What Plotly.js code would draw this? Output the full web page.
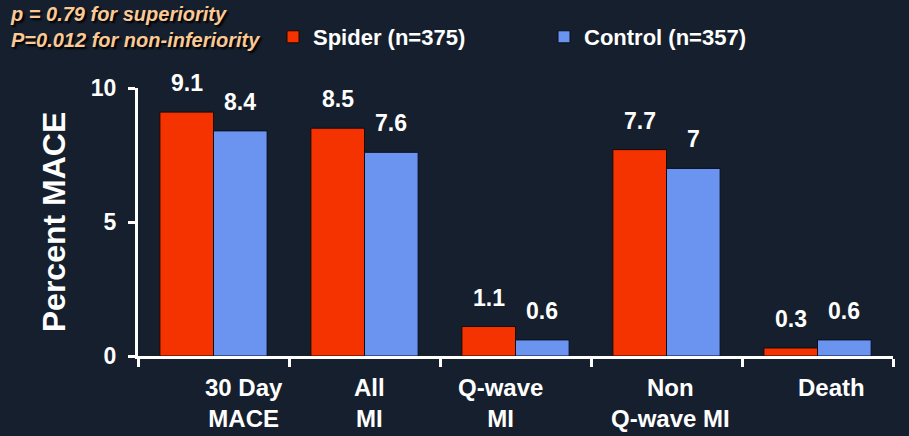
<!DOCTYPE html>
<html>
<head>
<meta charset="utf-8">
<script src="https://cdn.plot.ly/plotly-3.0.1.min.js"></script>
<style>
  html, body { margin: 0; padding: 0; background: #161f2d; }
  #chart { width: 909px; height: 436px; }
</style>
</head>
<body>
<div id="chart"></div>
<script>
// ---- data ----
const categories = ["30 Day<br>MACE", "All<br>MI", "Q-wave<br>MI", "Non<br>Q-wave MI", "Death"];
const spiderValues = [9.1, 8.5, 1.1, 7.7, 0.3];
const controlValues = [8.4, 7.6, 0.6, 7.0, 0.6];
const seriesNames = ["Spider (n=375)", "Control (n=357)"];
const yTickValues = [0, 5, 10];
const pValueLines = ["p = 0.79 for superiority", "P=0.012 for non-inferiority"];

// ---- style ----
const FONT = "Liberation Sans, Arial, Helvetica, sans-serif";
const W = 909, H = 436;
const margin = { l: 138, r: 16, t: 88, b: 80 };
const bargap = 0.29;
const plotW = W - margin.l - margin.r;
const plotH = H - margin.t - margin.b;
const catW = plotW / categories.length;
const barW = catW * (1 - bargap) / 2;
const labelShifts = [30, 5, -15, 4, 14];

const traces = [
  {
    type: "bar", name: seriesNames[0], x: categories, y: spiderValues,
    marker: { color: "#f43300", line: { color: "#1a0a05", width: 1 } },
    hoverinfo: "y"
  },
  {
    type: "bar", name: seriesNames[1], x: categories, y: controlValues,
    marker: { color: "#6a94f0", line: { color: "#0a0f1e", width: 1 } },
    hoverinfo: "y"
  }
];

const annotations = [];
// value labels above bars
[spiderValues, controlValues].forEach((vals, s) => {
  vals.forEach((v, i) => {
    annotations.push({
      x: categories[i], y: v, xref: "x", yref: "y",
      text: String(v), showarrow: false,
      xanchor: "center", yanchor: "bottom",
      xshift: (s === 0 ? -1 : 1) * barW / 2, yshift: 14,
      font: { family: FONT, size: 23, color: "#ffffff", weight: "bold" }
    });
  });
});
// category labels
categories.forEach((c, i) => {
  annotations.push({
    x: c, y: 0, xref: "x", yref: "paper",
    text: c, showarrow: false,
    xanchor: "center", yanchor: "top",
    xshift: labelShifts[i], yshift: -16,
    font: { family: FONT, size: 24, color: "#ffffff", weight: "bold" }
  });
});
// p-value note (top left)
annotations.push({
  xref: "paper", yref: "paper",
  x: (8 - margin.l) / plotW, y: 1 + (margin.t - 1) / plotH,
  xanchor: "left", yanchor: "top", align: "left",
  text: pValueLines.join("<br>"), showarrow: false,
  font: { family: FONT, size: 20, color: "#fbc995", weight: "bold", style: "italic",
          shadow: "2px 2px 2px #000000" }
});

const layout = {
  width: W, height: H,
  margin: margin,
  paper_bgcolor: "#161f2d",
  plot_bgcolor: "#161f2d",
  barmode: "group",
  bargap: bargap,
  bargroupgap: 0,
  showlegend: true,
  legend: {
    orientation: "h",
    xref: "container", yref: "container",
    x: 273 / W, xanchor: "left",
    y: 1 - 16 / H, yanchor: "top",
    bgcolor: "rgba(0,0,0,0)",
    entrywidth: 226, entrywidthmode: "pixels",
    font: { family: FONT, size: 22, color: "#ffffff", weight: "bold" },
    traceorder: "normal"
  },
  xaxis: {
    type: "category",
    showticklabels: false,
    showline: true, linecolor: "#ffffff", linewidth: 3,
    ticks: "outside", tickson: "boundaries", ticklen: 8, tickwidth: 3, tickcolor: "#ffffff",
    showgrid: false, zeroline: false, fixedrange: true
  },
  yaxis: {
    range: [0, 10],
    tickvals: yTickValues,
    showline: true, linecolor: "#ffffff", linewidth: 3,
    ticks: "outside", ticklen: 7, tickwidth: 3, tickcolor: "#ffffff",
    ticklabelstandoff: 7,
    tickfont: { family: FONT, size: 23, color: "#ffffff", weight: "bold" },
    showgrid: false, zeroline: false, fixedrange: true,
    title: {
      text: "Percent MACE", standoff: 16,
      font: { family: FONT, size: 32, color: "#ffffff", weight: "bold" }
    }
  },
  annotations: annotations
};

Plotly.newPlot("chart", traces, layout, { displayModeBar: false, staticPlot: true });
</script>
</body>
</html>
